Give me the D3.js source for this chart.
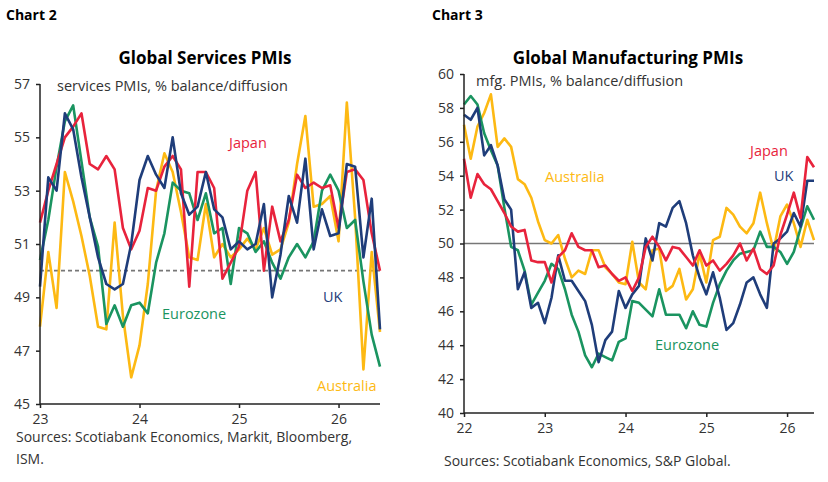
<!DOCTYPE html>
<html><head><meta charset="utf-8">
<script src="https://cdn.jsdelivr.net/npm/d3@7"></script>
<style>body{margin:0;background:#fff;font-family:"Open Sans",sans-serif}</style>
</head><body><svg id="c" width="828" height="482"></svg>
<script>
// services PMIs, monthly from Jan 2023
var svcJapan = [51.8,53.0,54.0,55.0,55.4,55.9,54.0,53.8,54.3,53.8,51.6,50.8,51.5,53.1,53.0,53.9,54.3,53.8,49.4,53.7,53.7,53.1,49.7,50.3,50.9,53.0,53.7,50.0,52.4,51.1,51.9,53.6,53.1,53.3,53.1,53.2,51.6,53.7,53.8,53.4,51.4,50.0];
var svcEuro = [50.4,51.9,53.9,55.6,56.2,54.1,52.0,50.9,48.0,48.7,47.9,48.7,48.8,48.4,50.3,51.4,53.3,53.0,52.9,51.9,52.9,51.4,51.6,49.5,51.6,51.4,50.7,51.1,50.3,49.7,50.5,51.0,50.5,51.1,53.0,53.6,53.0,51.6,51.9,49.6,47.6,46.4];
var svcUK = [49.4,53.5,53.0,55.9,55.3,53.5,52.0,50.5,49.5,49.3,49.5,51.0,53.4,54.3,53.6,53.1,55.0,52.9,52.1,52.4,53.7,52.3,52.0,50.8,51.1,50.8,51.0,52.5,49.0,50.6,52.8,51.8,54.2,50.8,52.3,51.3,51.4,54.0,53.9,50.5,52.7,47.8];
var svcAus = [47.9,50.7,48.6,53.7,52.6,51.3,49.8,47.9,47.8,51.8,48.3,46.0,47.2,49.5,53.0,54.4,53.7,52.2,50.5,50.4,52.5,50.5,51.0,50.5,50.8,51.2,50.8,51.6,50.6,50.8,51.8,54.0,55.8,52.4,52.5,52.8,51.1,56.3,52.0,46.3,50.7,47.7];
// manufacturing PMIs, monthly from Jan 2022
var mfgJapan = [55.0,52.7,54.1,53.5,53.2,52.5,51.8,51.0,50.7,50.8,49.0,48.9,48.9,47.7,49.2,49.6,50.6,49.8,49.6,49.6,48.6,48.7,48.2,47.8,48.0,47.2,48.0,49.8,50.4,49.8,49.0,49.8,49.7,49.2,48.7,49.6,48.7,49.0,48.4,48.8,49.3,50.0,49.0,49.7,48.5,48.2,48.7,50.5,51.7,53.0,51.5,55.1,54.5];
var mfgEuro = [58.2,58.7,58.2,56.5,55.5,54.6,52.1,49.8,49.6,48.4,46.4,47.1,47.8,48.8,48.5,47.3,45.8,44.8,43.4,42.7,43.5,43.3,43.1,44.2,44.4,46.6,46.5,46.1,45.7,47.3,45.8,45.8,45.8,45.0,46.0,45.2,45.1,46.5,47.6,48.4,49.0,49.4,49.5,49.6,50.7,49.8,49.8,49.5,48.8,49.5,50.9,52.2,51.4];
var mfgUK = [57.6,57.3,58.0,55.2,55.8,54.6,52.6,52.0,47.3,48.3,46.2,46.5,45.3,46.8,49.3,47.8,47.8,47.2,46.6,45.2,43.0,44.3,44.8,47.2,46.2,47.0,47.5,50.3,49.0,51.2,51.0,52.1,52.5,51.2,49.3,48.0,47.0,48.3,46.8,44.9,45.3,46.4,47.7,48.0,47.0,46.2,50.0,50.3,50.7,51.8,51.0,53.7,53.7];
var mfgAus = [57.0,55.0,56.9,57.7,58.8,55.7,56.2,55.7,53.8,53.5,52.7,51.3,50.2,50.0,50.5,49.1,48.0,48.4,48.2,49.6,49.6,48.6,48.2,47.7,47.6,50.1,47.7,47.3,49.6,49.7,47.2,47.5,48.5,46.7,47.3,49.4,47.7,50.2,50.4,52.1,51.7,51.0,50.6,51.2,53.0,51.2,49.6,51.6,52.3,51.2,49.8,51.4,50.2];
var svcTicks = [45,47,49,51,53,55,57];
var mfgTicks = [40,42,44,46,48,50,52,54,56,58,60];
var svcYears = ["23","24","25","26"];
var mfgYears = ["22","23","24","25","26"];

var col = {Japan:"#e8233c", Eurozone:"#1a9460", UK:"#1f3d7a", Australia:"#fdb913"};
var svg = d3.select("#c");
var txt = "#333";

function panel(o) {
  var x = d3.scaleLinear().domain([0, o.nMonths]).range([o.x0, o.x1]);
  var y = d3.scaleLinear().domain(o.yDom).range([o.y1, o.y0]);
  var g = svg.append("g");
  g.append("text").attr("x", o.chartX).attr("y", 20).text(o.chart)
    .style("font-weight", "bold").style("font-size", "14px").style("fill", "#000");
  g.append("text").attr("x", o.titleX).attr("y", 64).attr("text-anchor", "middle").text(o.title)
    .style("font-weight", "bold").style("font-size", "17px").style("fill", "#000");
  g.append("text").attr("x", o.subX).attr("y", o.subY).text(o.sub).style("font-size", "14.5px").style("fill", txt);

  g.append("line").attr("x1", x(0)).attr("x2", x(o.nMonths)).attr("y1", y(50)).attr("y2", y(50))
    .style("stroke", "#777").style("stroke-width", 1.6).style("stroke-dasharray", o.dash ? "4,3" : null);

  var line = d3.line().x(function(d, i) { return x(i); }).y(function(d) { return y(d); });
  o.series.forEach(function(s) {
    g.append("path").datum(s[1]).attr("d", line).style("fill", "none")
      .style("stroke", col[s[0]]).style("stroke-width", 2.6).style("stroke-linejoin", "round");
  });

  var ya = g.append("g").attr("transform", "translate(" + o.x0 + ",0)")
    .call(d3.axisLeft(y).tickValues(o.yTicks).tickSize(4).tickPadding(6).tickFormat(d3.format("d")));
  ya.select(".domain").attr("d", "M0," + y.range()[1] + "V" + y.range()[0]);
  var xa = g.append("g").attr("transform", "translate(0," + o.y1 + ")")
    .call(d3.axisBottom(x).tickValues(o.years.map(function(d, i) { return i * 12; }))
      .tickSize(4).tickPadding(6).tickFormat(function(d, i) { return o.years[i]; }));
  xa.select(".domain").attr("d", "M" + o.x0 + ",0H" + o.x1);
  [ya, xa].forEach(function(a) {
    a.selectAll("path,line").style("stroke", "#222").style("stroke-width", 1.5);
    a.selectAll("text").style("font-size", "14px").style("fill", txt).style("font-family", "Open Sans");
  });

  o.labels.forEach(function(l) {
    g.append("text").attr("x", l[1]).attr("y", l[2]).text(l[0]).style("font-size", "14.5px").style("fill", col[l[0]]);
  });
  o.sources.forEach(function(s, i) {
    g.append("text").attr("x", o.srcX).attr("y", o.srcY + i * 22).text(s).style("font-size", "14px").style("fill", txt);
  });
}

panel({chart:"Chart 2", chartX:6, title:"Global Services PMIs", titleX:205, sub:"services PMIs, % balance/diffusion",
  subX:57, subY:91, x0:40, x1:380, nMonths:41, y0:84, y1:404, yDom:[45,57], yTicks:svcTicks, years:svcYears, dash:true,
  series:[["Australia",svcAus],["Eurozone",svcEuro],["Japan",svcJapan],["UK",svcUK]],
  labels:[["Japan",229,148],["UK",323,302],["Eurozone",162,319],["Australia",317,391]],
  sources:["Sources: Scotiabank Economics, Markit, Bloomberg,","ISM."], srcX:16, srcY:442});

panel({chart:"Chart 3", chartX:432, title:"Global Manufacturing PMIs", titleX:628, sub:"mfg. PMIs, % balance/diffusion",
  subX:476, subY:86, x0:464, x1:814, nMonths:52, y0:74, y1:413, yDom:[40,60], yTicks:mfgTicks, years:mfgYears, dash:false,
  series:[["Australia",mfgAus],["Eurozone",mfgEuro],["UK",mfgUK],["Japan",mfgJapan]],
  labels:[["Japan",750,156],["UK",774,181],["Australia",545,182],["Eurozone",655,350]],
  sources:["Sources: Scotiabank Economics, S&P Global."], srcX:444, srcY:466});
</script></body></html>
